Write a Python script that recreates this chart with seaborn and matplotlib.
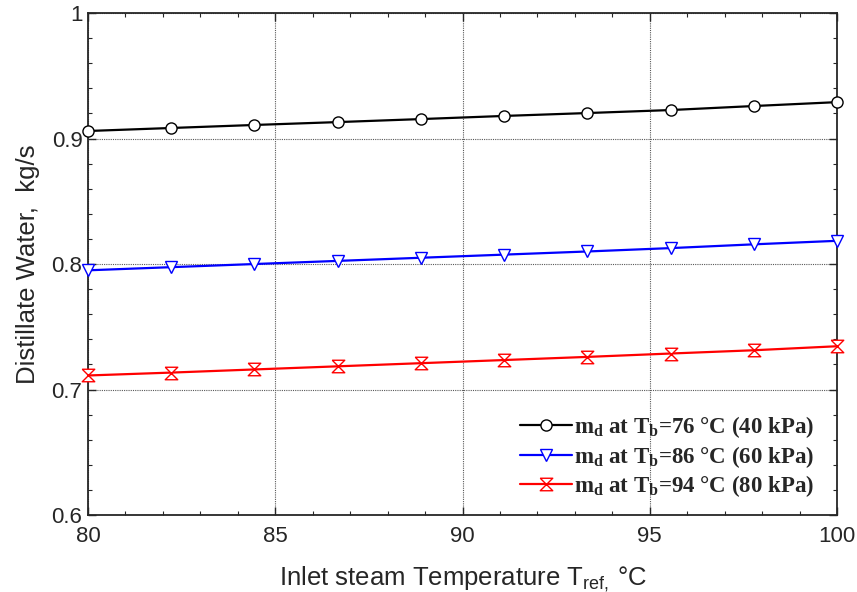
import numpy as np
import pandas as pd
import matplotlib
matplotlib.use("Agg")
import matplotlib.pyplot as plt
from matplotlib.ticker import MultipleLocator
import seaborn as sns

# data
t_ref = [80.0, 82.22, 84.44, 86.67, 88.89, 91.11, 93.33, 95.56, 97.78, 100.0]
md_40kpa = [0.906, 0.9084, 0.9108, 0.9131, 0.9155, 0.918, 0.9203, 0.9227, 0.9259, 0.929]
md_60kpa = [0.795, 0.7975, 0.800, 0.8025, 0.805, 0.8075, 0.810, 0.8127, 0.8157, 0.8185]
md_80kpa = [0.7112, 0.7135, 0.716, 0.7185, 0.721, 0.7235, 0.726, 0.7287, 0.7313, 0.7345]

labels = [r"$\mathrm{m_d}$ at $\mathrm{T_b}$=76 °C (40 kPa)",
          r"$\mathrm{m_d}$ at $\mathrm{T_b}$=86 °C (60 kPa)",
          r"$\mathrm{m_d}$ at $\mathrm{T_b}$=94 °C (80 kPa)"]
colors = ["black", "blue", "red"]
hourglass = [(-1, 1), (1, 1), (-1, -1), (1, -1), (-1, 1)]
markers = ["o", "v", hourglass]
msizes = [8, 9, 9]

sns.set_style("ticks")
plt.rcParams["font.family"] = ["Liberation Sans", "DejaVu Sans"]
plt.rcParams["mathtext.fontset"] = "custom"
plt.rcParams["mathtext.rm"] = "Liberation Serif:bold"
plt.rcParams["mathtext.sf"] = "Liberation Sans"

fig = plt.figure(figsize=(8.57, 5.92), dpi=100)
ax = fig.add_axes([0.1027, 0.130, 0.874, 0.848])

for y, lab, c, m, ms in zip([md_40kpa, md_60kpa, md_80kpa], labels, colors, markers, msizes):
    df = pd.DataFrame({"T": t_ref, "md": y})
    sns.lineplot(data=df, x="T", y="md", ax=ax, color=c, lw=1.6, marker=m,
                 markersize=ms, markerfacecolor="white", markeredgecolor=c,
                 markeredgewidth=1.0, label=lab, clip_on=False, zorder=3)

ax.set_xlim(80, 100)
ax.set_ylim(0.6, 1.0)
ax.xaxis.set_major_locator(MultipleLocator(5))
ax.xaxis.set_minor_locator(MultipleLocator(1))
ax.yaxis.set_minor_locator(MultipleLocator(0.02))
ax.set_yticks([0.6, 0.7, 0.8, 0.9, 1.0])
ax.set_yticklabels(["0.6", "0.7", "0.8", "0.9", "1"])
ax.tick_params(which="both", direction="in", top=True, right=True, labelsize=16)
ax.tick_params(which="major", length=6, width=1)
ax.tick_params(which="minor", length=3, width=0.8)
ax.tick_params(axis="x", pad=8)
ax.tick_params(axis="y", pad=4)
for s in ax.spines.values():
    s.set_linewidth(1.3)

ax.grid(True, which="major", linestyle=(0, (1, 1)), color="0.35", lw=0.8)

ax.set_xlabel(r"Inlet steam Temperature T$_\mathsf{ref,}\,$°C", fontsize=18.5, labelpad=12)
ax.set_ylabel("Distillate Water,  kg/s", fontsize=18.5, labelpad=8)

leg = ax.legend(loc="lower right", bbox_to_anchor=(0.99, 0.0), frameon=False,
                prop={"family": "Liberation Serif", "weight": "bold", "size": 16.5},
                handlelength=2.3, handletextpad=0.05, labelspacing=0.15, borderaxespad=0.3)

fig.savefig("out.png", dpi=100)
